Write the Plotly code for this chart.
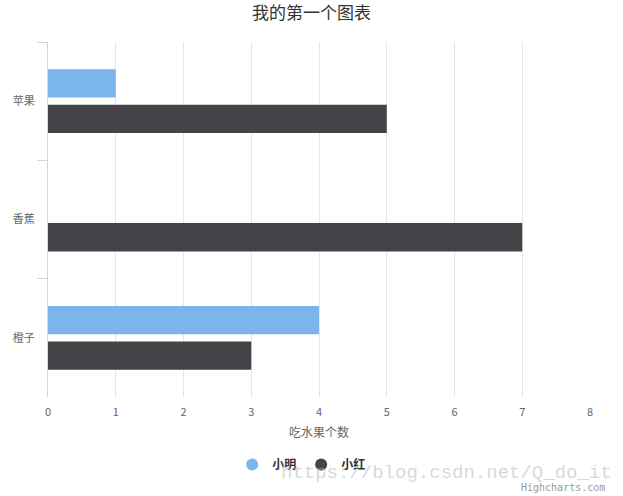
import plotly.graph_objects as go

# ── data ──────────────────────────────────────────────────────────────────────
categories = ['苹果', '香蕉', '橙子']
xiaoming = [1, 0, 4]
xiaohong = [5, 7, 3]
series_names = ['小明', '小红']
x_ticks = [0, 1, 2, 3, 4, 5, 6, 7, 8]

COLORS = ['#7cb5ec', '#434348']
FONT = 'Noto Sans CJK SC, Liberation Sans, sans-serif'

fig = go.Figure()
for name, vals, color in zip(series_names, [xiaoming, xiaohong], COLORS):
    fig.add_trace(go.Bar(
        name=name, y=categories, x=vals, orientation='h',
        marker_color=color, marker_line_width=0, showlegend=False,
    ))
    # circle legend symbol like highcharts
    fig.add_trace(go.Scatter(
        name=name, x=[None], y=[None], mode='markers',
        marker=dict(symbol='circle', size=12, color=color),
    ))

fig.update_layout(
    width=623, height=496,
    paper_bgcolor='white', plot_bgcolor='white',
    margin=dict(l=48, r=33, t=42, b=99, autoexpand=False),
    font=dict(family=FONT, size=11, color='#666666'),
    title=dict(text='我的第一个图表', x=0.5, xanchor='center', y=0.986, yanchor='top',
               font=dict(size=17, color='#333333')),
    barmode='group', bargap=0.4, bargroupgap=0.2,
    legend=dict(orientation='h', x=0.468, xanchor='center', y=-0.19, yanchor='middle',
                font=dict(size=12, color='#333333', weight='bold'),
                itemsizing='constant'),
    xaxis=dict(
        range=[0, 8], tickvals=x_ticks, showgrid=True, gridcolor='#e6e6e6',
        zeroline=False, showline=False, ticks='', automargin=False,
        ticklabelstandoff=7,
        tickfont=dict(size=11, color='#666666'),
        title=dict(text='吃水果个数', font=dict(size=12, color='#666666'), standoff=10),
    ),
    yaxis=dict(
        autorange='reversed', showgrid=False, zeroline=False, automargin=False,
        showline=True, linecolor='#ccd6eb', linewidth=1,
        ticks='outside', tickson='boundaries', ticklen=10, tickcolor='#ccd6eb',
        ticklabelstandoff=10,
        tickfont=dict(size=11, color='#666666'),
    ),
    annotations=[
        dict(text='https://blog.csdn.net/Q_do_it', xref='paper', yref='paper',
             x=1.044, y=-0.214, xanchor='right', yanchor='middle', showarrow=False,
             font=dict(family='Liberation Mono', size=19, color='rgba(190,190,190,0.6)')),
        dict(text='Highcharts.com', xref='paper', yref='paper',
             x=1.031, y=-0.254, xanchor='right', yanchor='middle', showarrow=False,
             font=dict(family='DejaVu Sans Mono', size=10, color='#999999')),
    ],
)

# drop the default 8px body margin so the figure sits at the window origin
fig.write_html('out.html', config={'displayModeBar': False},
               post_script="document.body.style.margin='0';")
